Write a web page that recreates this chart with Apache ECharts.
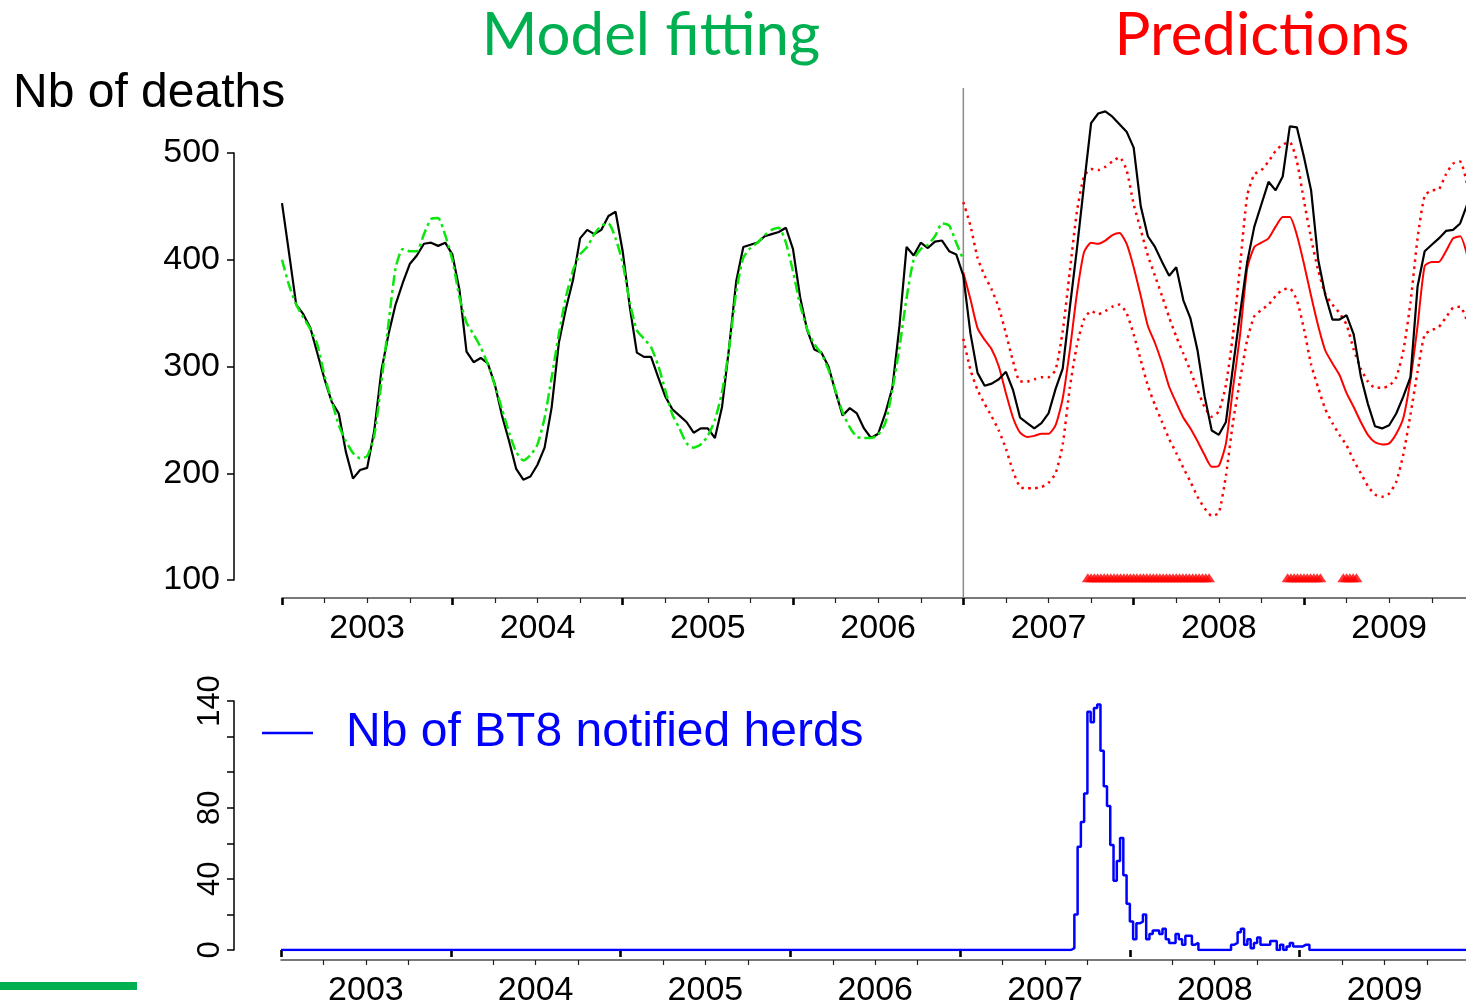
<!DOCTYPE html>
<html>
<head>
<meta charset="utf-8">
<script src="https://cdn.jsdelivr.net/npm/echarts@6/dist/echarts.min.js"></script>
<style>
  html, body { margin: 0; padding: 0; background: #ffffff; }
  #chart { width: 1466px; height: 1008px; }
</style>
</head>
<body>
<div id="chart"></div>
<script>
// Cattle mortality, smoothed weekly counts sampled twice a month from January 2003.
const START_YEAR = 2003;
const STEP = 1 / 24;          // half-month sampling step, in years
const PRED_START = 96;        // index of January 2007: first predicted sample

const yearLabels = ['2003', '2004', '2005', '2006', '2007', '2008', '2009'];

const observedDeaths = [
  453, 406, 358, 349, 336, 312, 288, 267, 256, 220, 195, 203, 205, 240, 296, 330, 358, 378, 396, 404, 415, 416, 413, 416,
  405, 372, 314, 304, 308, 303, 283, 254, 230, 204, 194, 197, 208, 224, 262, 322, 354, 381, 420, 428, 424, 428, 441, 445,
  408, 356, 313, 309, 309, 290, 272, 260, 254, 248, 238, 242, 242, 233, 262, 318, 380, 412, 414, 416, 422, 424, 426, 430,
  410, 365, 334, 316, 313, 300, 276, 254, 261, 256, 242, 233, 237, 256, 280, 338, 412, 404, 416, 411, 417, 418, 408, 405,
  385, 331, 294, 282, 284, 288, 295, 278, 252, 247, 242, 247, 256, 279, 298, 355, 410, 470, 528, 537, 539, 534, 527, 520,
  505, 450, 422, 412, 398, 385, 393, 362, 345, 315, 272, 240, 236, 248, 300, 350, 398, 431, 452, 473, 465, 478, 525, 524,
  496, 465, 400, 367, 344, 344, 348, 330, 291, 265, 244, 242, 245, 256, 272, 290, 375, 408, 414, 420, 427, 428, 434, 452
];

// Model fitted on 2003-2006
const fittedDeaths = [
  400, 376, 358, 346, 335, 320, 291, 268, 245, 230, 219, 214, 216, 235, 285, 340, 392, 410, 408, 408, 424, 438, 439, 423,
  400, 365, 341, 330, 318, 302, 282, 260, 238, 220, 212, 217, 227, 252, 290, 330, 365, 390, 405, 412, 424, 432, 434, 420,
  397, 360, 334, 326, 318, 301, 278, 255, 242, 228, 224, 227, 235, 250, 276, 317, 370, 402, 411, 416, 423, 428, 430, 416,
  389, 358, 335, 321, 312, 297, 277, 257, 243, 234, 233, 233, 236, 247, 278, 318, 364, 400, 410, 414, 422, 434, 432, 416,
  400
];

// Predictions for 2007-2009 with their prediction interval
const predictedDeaths = [
  388, 363, 336, 325, 316, 300, 275, 252, 238, 234, 235, 237, 237, 245, 270, 315, 368, 407, 416, 415, 418, 423, 425, 415,
  393, 366, 338, 322, 303, 281, 266, 252, 242, 230, 217, 206, 207, 228, 280, 330, 392, 412, 416, 420, 431, 440, 440, 423,
  396, 366, 338, 315, 303, 292, 275, 262, 248, 236, 229, 227, 228, 237, 252, 288, 338, 394, 398, 398, 408, 420, 422, 404
];
const predUpper = [
  454, 432, 402, 385, 372, 355, 331, 305, 286, 286, 288, 290, 290, 297, 333, 389, 445, 478, 485, 484, 487, 492, 496, 484,
  452, 428, 404, 385, 366, 346, 328, 312, 296, 278, 262, 253, 258, 283, 330, 395, 460, 480, 484, 492, 502, 508, 510, 492,
  455, 420, 390, 368, 358, 350, 339, 316, 298, 286, 280, 280, 282, 290, 315, 360, 420, 460, 465, 466, 480, 490, 492, 470
];
const predLower = [
  326, 297, 278, 265, 253, 240, 223, 202, 187, 186, 186, 187, 191, 200, 227, 280, 320, 344, 352, 349, 352, 356, 358, 350,
  330, 306, 282, 264, 248, 232, 219, 205, 192, 178, 167, 160, 163, 198, 248, 288, 325, 347, 353, 358, 366, 372, 373, 362,
  335, 302, 280, 260, 247, 236, 226, 212, 200, 188, 180, 178, 181, 192, 218, 255, 295, 330, 334, 337, 346, 355, 356, 342
];

// Weeks (counted from the first week of 2003) flagged as excess mortality
const alarmWeeks = [
  246, 247, 248, 249, 250, 251, 252, 253, 254, 255, 256, 257, 258, 259, 260, 261, 262, 263, 264,
  265, 266, 267, 268, 269, 270, 271, 272, 273, 274, 275, 276, 277, 278, 279, 280, 281, 282, 283,
  307, 308, 309, 310, 311, 312, 313, 314, 315, 316, 317,
  324, 325, 326, 327, 328
];
const ALARM_LEVEL = 102;

// Weekly number of BT8 notified herds, starting at week FIRST_HERD_WEEK
const FIRST_HERD_WEEK = 242;
const herds = [
  1, 20, 58, 72, 88, 134, 128, 136, 138, 112, 92, 81, 59, 39, 50, 63, 42, 26, 16, 6,
  15, 16, 20, 6, 9, 11, 11, 9, 12, 6, 4, 4, 9, 6, 3, 8, 8, 3, 4,
  0, 0, 0, 0, 0, 0, 0, 0, 0, 0,
  3, 4, 10, 12, 3, 6, 1, 4, 7, 3, 3, 3, 5, 5, 0, 3, 0, 2, 4, 2, 2, 2, 3, 3, 0
];
const herdTickLabels = [0, 40, 80, 140];

const TOP_X_MAX = 2009.951;
const BOTTOM_X_MAX = 2009.98;
const HERDS_END = 2010;

const FONT = 'Liberation Sans';

const timeAt = i => START_YEAR + i * STEP;
const toPairs = (arr, offset) => arr.map((v, k) => [timeAt(offset + k), v]);

const years = yearLabels.map(y => Number(y));
const yearMids = years.map(y => y + 0.5);
const quarters = [];
years.forEach(y => { quarters.push(y + 0.25, y + 0.5, y + 0.75); });

function timeAxes(gridIndex, max, offset, labelMargin) {
  return [
    {
      type: 'value', gridIndex, min: START_YEAR, max, position: 'bottom', offset,
      axisLine: { show: true, onZero: false, lineStyle: { color: '#4d4d4d', width: 1.5 } },
      axisTick: { show: true, customValues: quarters, length: 5, lineStyle: { color: '#222', width: 1.2 } },
      axisLabel: {
        show: true, customValues: yearMids, margin: labelMargin,
        fontFamily: FONT, fontSize: 34, color: '#000',
        formatter: v => yearLabels[Math.floor(v + 1e-6) - START_YEAR]
      },
      splitLine: { show: false }
    },
    {
      type: 'value', gridIndex, min: START_YEAR, max, position: 'bottom', offset,
      axisLine: { show: false },
      axisTick: { show: true, customValues: years, length: 7, lineStyle: { color: '#000', width: 2.6 } },
      axisLabel: { show: false },
      splitLine: { show: false }
    }
  ];
}

const chart = echarts.init(document.getElementById('chart'), null, { renderer: 'canvas' });

const option = {
  animation: false,
  backgroundColor: '#ffffff',
  textStyle: { fontFamily: FONT },
  grid: [
    { left: 282, right: 0, top: 153, height: 427 },
    { left: 281, right: 0, top: 701, height: 253 }
  ],
  xAxis: [].concat(timeAxes(0, TOP_X_MAX, 18, 14), timeAxes(1, BOTTOM_X_MAX, 10, 14)),
  yAxis: [
    {
      type: 'value', gridIndex: 0, min: 100, max: 500, interval: 100, offset: 48,
      axisLine: { show: true, lineStyle: { color: '#000', width: 1.5 } },
      axisTick: { show: true, length: 7, lineStyle: { color: '#000', width: 1.5 } },
      axisLabel: { fontFamily: FONT, fontSize: 34, color: '#000', margin: 14 },
      splitLine: { show: false }
    },
    {
      type: 'value', gridIndex: 1, min: 0, max: 140, interval: 20, offset: 47,
      axisLine: { show: true, lineStyle: { color: '#000', width: 1.5 } },
      axisTick: { show: true, length: 7, lineStyle: { color: '#000', width: 1.5 } },
      axisLabel: {
        fontFamily: FONT, fontSize: 31, color: '#000', margin: 8, rotate: 90,
        formatter: v => (herdTickLabels.indexOf(v) >= 0 ? String(v) : '')
      },
      splitLine: { show: false }
    }
  ],
  legend: {
    data: ['Nb of BT8 notified herds'],
    left: 262, top: 709, padding: 0,
    icon: 'rect', itemWidth: 51, itemHeight: 2.5,
    selectedMode: false,
    textStyle: { color: '#0000ff', fontSize: 48, fontFamily: FONT, padding: [0, 0, 0, 28] }
  },
  series: [
    {
      name: 'Observed deaths', type: 'line', xAxisIndex: 0, yAxisIndex: 0,
      data: toPairs(observedDeaths, 0), showSymbol: false, clip: false,
      lineStyle: { color: '#000000', width: 2.2 }, z: 3
    },
    {
      name: 'Fitted', type: 'line', xAxisIndex: 0, yAxisIndex: 0,
      data: toPairs(fittedDeaths, 0), showSymbol: false, clip: false, smooth: 0.2,
      lineStyle: { color: '#0be60b', width: 2.5, type: [11, 4, 3, 4] }, z: 4
    },
    {
      name: 'Predicted', type: 'line', xAxisIndex: 0, yAxisIndex: 0,
      data: toPairs(predictedDeaths, PRED_START), showSymbol: false, clip: false, smooth: 0.2,
      lineStyle: { color: '#ff0000', width: 2 }, z: 2
    },
    {
      name: 'Upper bound', type: 'line', xAxisIndex: 0, yAxisIndex: 0,
      data: toPairs(predUpper, PRED_START), showSymbol: false, clip: false, smooth: 0.2,
      lineStyle: { color: '#ff0000', width: 2.5, type: [2.5, 4.5] }, z: 2
    },
    {
      name: 'Lower bound', type: 'line', xAxisIndex: 0, yAxisIndex: 0,
      data: toPairs(predLower, PRED_START), showSymbol: false, clip: false, smooth: 0.2,
      lineStyle: { color: '#ff0000', width: 2.5, type: [2.5, 4.5] }, z: 2
    },
    {
      name: 'Alarms', type: 'scatter', xAxisIndex: 0, yAxisIndex: 0,
      data: alarmWeeks.map(w => [START_YEAR + w / 52, ALARM_LEVEL]),
      symbol: 'triangle', symbolSize: [12, 9], clip: false,
      itemStyle: { color: '#ff0000' }, z: 2
    },
    {
      name: 'Nb of BT8 notified herds', type: 'line', xAxisIndex: 2, yAxisIndex: 1,
      step: 'end', showSymbol: false,
      data: [[START_YEAR, 0]]
        .concat(herds.map((v, k) => [START_YEAR + (FIRST_HERD_WEEK + k) / 52, v]))
        .concat([[HERDS_END, 0]]),
      lineStyle: { color: '#0000ff', width: 2.5 },
      itemStyle: { color: '#0000ff' }
    }
  ]
};

chart.setOption(option);

// Fitting / prediction boundary and page decorations
const splitX = chart.convertToPixel({ xAxisIndex: 0 }, timeAt(PRED_START));
chart.setOption({
  graphic: [
    {
      type: 'line', id: 'split', silent: true, z: 1,
      shape: { x1: splitX, y1: 88, x2: splitX, y2: 598 },
      style: { stroke: '#8c8c8c', lineWidth: 1.5 }
    },
    {
      type: 'text', id: 'title-fit', x: 651, y: 36,
      style: { text: 'Model fitting', font: '60px Lato', fill: '#00b050', align: 'center', verticalAlign: 'middle' }
    },
    {
      type: 'text', id: 'title-pred', x: 1262, y: 36,
      style: { text: 'Predictions', font: '60px Lato', fill: '#ff0000', align: 'center', verticalAlign: 'middle' }
    },
    {
      type: 'text', id: 'y-title', x: 13, y: 94,
      style: { text: 'Nb of deaths', font: '48px "Liberation Sans"', fill: '#000000', align: 'left', verticalAlign: 'middle' }
    },
    {
      type: 'rect', id: 'footer-bar', silent: true,
      shape: { x: 0, y: 982, width: 137, height: 8 },
      style: { fill: '#00b050' }
    }
  ]
});
</script>
</body>
</html>
